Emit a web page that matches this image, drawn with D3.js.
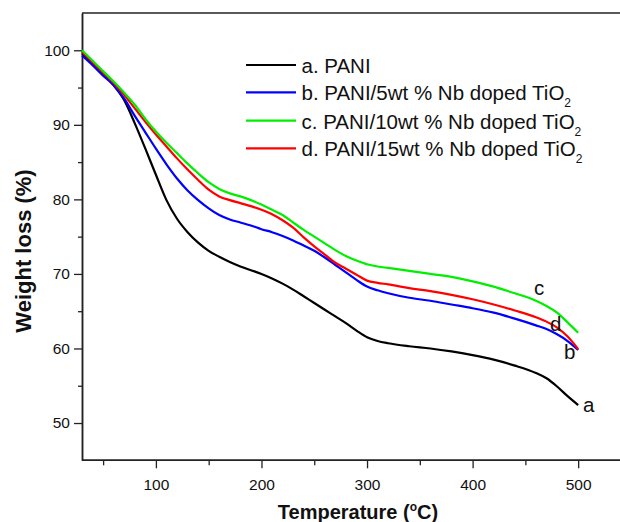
<!DOCTYPE html>
<html>
<head>
<meta charset="utf-8">
<script src="https://cdn.jsdelivr.net/npm/d3@7"></script>
<style>
  html, body { margin: 0; padding: 0; background: #fff; }
  svg { display: block; }
  text { font-family: Arial, "Liberation Sans", sans-serif; fill: #111; }
</style>
</head>
<body>
<svg id="chart" width="620" height="522"></svg>
<script>
// ---- data ----
const temps = [30,40,50,60,70,80,90,100,110,120,130,140,150,160,170,180,190,200,210,220,230,240,250,260,270,280,290,300,310,320,340,360,380,400,420,440,460,470,480,490,500];
const seriesA = [99.6,98.2,96.8,95.3,93.3,90.2,86.8,83.3,79.9,77.4,75.6,74.2,73.1,72.3,71.6,71.0,70.5,70.0,69.4,68.7,67.9,67.0,66.1,65.2,64.3,63.4,62.4,61.5,61.0,60.7,60.3,60.0,59.6,59.1,58.5,57.7,56.7,56.0,54.9,53.6,52.4];
const seriesB = [99.3,98.0,96.6,95.3,93.5,91.2,89.0,86.8,84.7,82.8,81.2,79.9,78.8,77.9,77.3,76.9,76.5,76.0,75.6,75.1,74.5,73.8,73.1,72.2,71.2,70.2,69.2,68.3,67.8,67.4,66.8,66.4,65.9,65.4,64.8,64.0,63.1,62.6,61.9,61.0,59.8];
const seriesC = [100.0,98.6,97.2,95.8,94.3,92.7,90.8,89.1,87.6,86.2,84.8,83.5,82.3,81.4,80.8,80.4,79.9,79.3,78.6,77.9,76.9,75.9,75.0,74.1,73.2,72.4,71.8,71.3,71.0,70.8,70.4,70.0,69.6,69.0,68.3,67.4,66.4,65.7,64.8,63.5,62.1];
const seriesD = [99.8,98.4,97.0,95.6,94.0,92.2,90.4,88.7,87.1,85.5,84.0,82.6,81.3,80.4,79.9,79.5,79.1,78.6,78.0,77.2,76.2,74.9,73.7,72.6,71.5,70.7,69.9,69.1,68.8,68.6,68.1,67.7,67.2,66.6,65.9,65.1,64.2,63.6,62.8,61.6,59.9];
const seriesNames = ["a. PANI", "b. PANI/5wt % Nb doped TiO", "c. PANI/10wt % Nb doped TiO", "d. PANI/15wt % Nb doped TiO"];
const seriesSubs = ["", "2", "2", "2"];
const curveLetters = ["a", "b", "c", "d"];
const seriesColors = ["#000000", "#0000ff", "#00ee00", "#ff0000"];
const xMajorTicks = [100,200,300,400,500];
const xMinorTicks = [50,150,250,350,450];
const yMajorTicks = [50,60,70,80,90,100];
const yMinorTicks = [55,65,75,85,95];
const xTitle = "Temperature (";
const yTitle = "Weight loss (%)";

// ---- layout ----
const svg = d3.select("#chart");
const mLeft = 82, mTop = 13, mBottom = 460.3, mRight = 620.4;
const x = d3.scaleLinear().domain([30, 540]).range([mLeft, mRight]);
const y = d3.scaleLinear().domain([45, 105]).range([mBottom, mTop]);

const series = [seriesA, seriesB, seriesC, seriesD];

// frame
svg.append("line").attr("x1", mLeft).attr("x2", 622).attr("y1", mTop).attr("y2", mTop)
  .attr("stroke", "#222").attr("stroke-width", 1.5);

// x axis
const gx = svg.append("g").attr("transform", `translate(0,${mBottom})`);
gx.call(d3.axisBottom(x).tickValues(xMajorTicks).tickSize(8).tickPadding(11).tickSizeOuter(0));
gx.append("g").call(d3.axisBottom(x).tickValues(xMinorTicks).tickSize(5).tickFormat("").tickSizeOuter(0));
gx.selectAll("path.domain").attr("stroke", "#222").attr("stroke-width", 1.5)
  .attr("d", `M${mLeft},0H622`);
gx.selectAll(".tick line").attr("stroke", "#222").attr("stroke-width", 1.3);
gx.selectAll(".tick text").attr("font-size", 15.5).attr("fill", "#111");

// y axis
const gy = svg.append("g").attr("transform", `translate(${mLeft},0)`);
gy.call(d3.axisLeft(y).tickValues(yMajorTicks).tickSize(8).tickPadding(4).tickSizeOuter(0));
gy.append("g").call(d3.axisLeft(y).tickValues(yMinorTicks).tickSize(4).tickFormat("").tickSizeOuter(0));
gy.selectAll("path.domain").attr("stroke", "#222").attr("stroke-width", 1.5);
gy.selectAll(".tick line").attr("stroke", "#222").attr("stroke-width", 1.3);
gy.selectAll(".tick text").attr("font-size", 15.5).attr("fill", "#111");

// axis titles
const xt = svg.append("text").attr("x", 358).attr("y", 519).attr("text-anchor", "middle")
  .attr("font-size", 20).attr("font-weight", "bold");
xt.append("tspan").text(xTitle);
xt.append("tspan").attr("dy", -8).attr("font-size", 12).text("o");
xt.append("tspan").attr("dy", 8).text("C)");

svg.append("text").attr("transform", "translate(31,251) rotate(-90)").attr("text-anchor", "middle")
  .attr("font-size", 22).attr("font-weight", "bold").text(yTitle);

// curves
const line = d3.line().x((d, i) => x(temps[i])).y(d => y(d)).curve(d3.curveMonotoneX);
const drawOrder = [0, 1, 3, 2];
drawOrder.forEach(k => {
  svg.append("path").datum(series[k]).attr("d", line).attr("fill", "none")
    .attr("stroke", seriesColors[k]).attr("stroke-width", 2.2).attr("stroke-linejoin", "round");
});

// curve letters
const letterPos = [[583, 412], [564, 359], [534, 295], [550, 331]];
curveLetters.forEach((c, k) => {
  svg.append("text").attr("x", letterPos[k][0]).attr("y", letterPos[k][1])
    .attr("font-size", 20.5).text(c);
});

// legend
const legY = [65, 92.3, 120.7, 148.3];
seriesNames.forEach((name, k) => {
  svg.append("line").attr("x1", 246).attr("x2", 296).attr("y1", legY[k]).attr("y2", legY[k])
    .attr("stroke", seriesColors[k]).attr("stroke-width", 2.2);
  const t = svg.append("text").attr("x", 301.5).attr("y", legY[k] + 8).attr("font-size", 20.5);
  t.append("tspan").text(name);
  if (seriesSubs[k]) t.append("tspan").attr("dy", 7).attr("font-size", 12).text(seriesSubs[k]);
});
</script>
</body>
</html>
